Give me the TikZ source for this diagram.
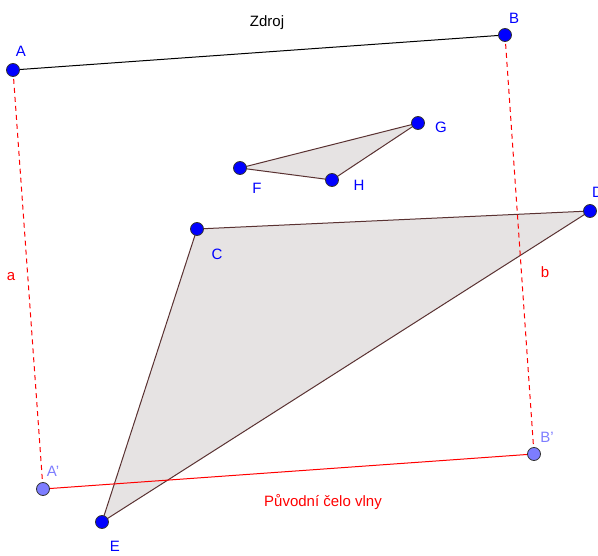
\documentclass[tikz,border=0pt]{standalone}
\usepackage{fontspec}
\setmainfont{Liberation Sans}
\definecolor{ptblue}{RGB}{0,0,255}
\definecolor{imgblue}{RGB}{125,125,255}
\definecolor{polyfill}{RGB}{230,227,227}
\definecolor{polyedge}{RGB}{90,50,50}
\definecolor{wavered}{RGB}{255,0,0}
\begin{document}
\begin{tikzpicture}[x=1pt,y=-1pt]
	\tikzset{pt/.style={circle,draw=black!80,fill=ptblue,line width=0.8pt,inner sep=0pt,minimum size=13pt},
		imgpt/.style={pt,fill=imgblue},
		lbl/.style={text=ptblue,font=\fontsize{15}{17}\selectfont},
		imglbl/.style={lbl,text=imgblue},
		redlbl/.style={lbl,text=wavered},
		poly/.style={fill=polyfill,draw=polyedge,line width=1pt,line join=round},
		ray/.style={wavered,line width=1pt,dash pattern=on 5pt off 4pt}}
	\useasboundingbox (0,0) rectangle (598,556);
	% points
	\coordinate (pA) at (13,70);
	\coordinate (pB) at (505,35);
	\coordinate (pC) at (197,229);
	\coordinate (pD) at (590,211);
	\coordinate (pE) at (102,522);
	\coordinate (pF) at (240,168);
	\coordinate (pG) at (418,123);
	\coordinate (pH) at (332,180);
	\coordinate (pA1) at (43,489);
	\coordinate (pB1) at (534,454);
	% obstacles
	\filldraw[poly] (pC) -- (pD) -- (pE) -- cycle;
	\filldraw[poly] (pF) -- (pG) -- (pH) -- cycle;
	% source and wave front
	\draw[line width=1pt] (pA) -- (pB);
	\draw[ray] (pA) -- (pA1);
	\draw[ray] (pB) -- (pB1);
	\draw[wavered,line width=1pt] (pA1) -- (pB1);
	\foreach \p in {A,B,C,D,E,F,G,H}
		\node[pt] (\p) at (p\p) {};
	\node[imgpt] (A1) at (pA1) {};
	\node[imgpt] (B1) at (pB1) {};
	% labels
	\node[lbl] (lA) at (21,51) {A};
	\node[lbl] (lB) at (514,18) {B};
	\node[lbl] (lC) at (217,254) {C};
	\node[lbl,anchor=west,inner sep=0pt] (lD) at (592,192) {D};
	\node[lbl] (lE) at (115,546) {E};
	\node[lbl] (lF) at (257,188) {F};
	\node[lbl] (lG) at (441,127) {G};
	\node[lbl] (lH) at (359,185) {H};
	\node[imglbl] (lA1) at (53,471) {A'};
	\node[imglbl] (lB1) at (547,437) {B'};
	\node[redlbl] (la) at (11,277) {a};
	\node[redlbl] (lb) at (545,272) {b};
	\node[lbl,text=black] (zdroj) at (267,23) {Zdroj};
	\node[redlbl] (celo) at (323,502) {Původní čelo vlny};
\end{tikzpicture}
\end{document}
